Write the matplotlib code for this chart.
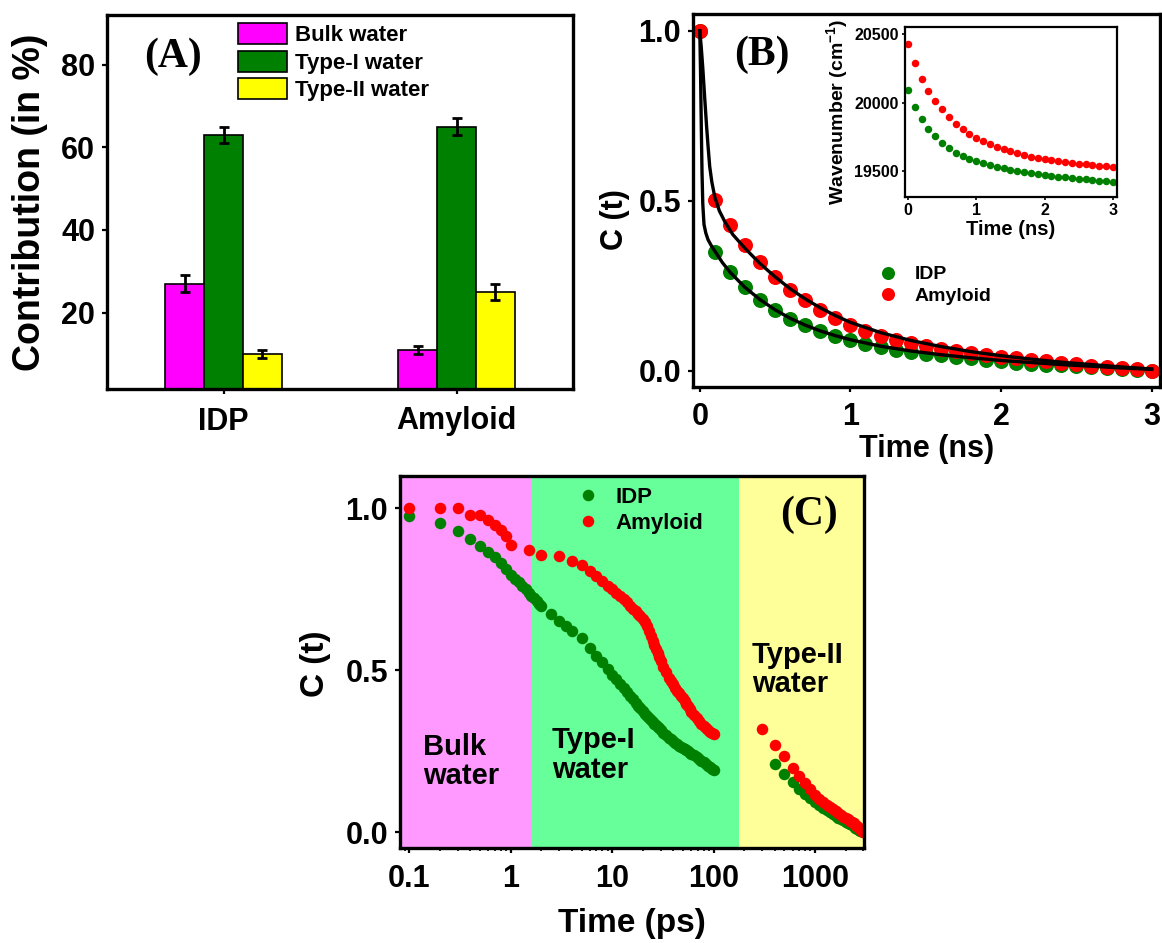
"""Three-panel figure: water-type contributions, solvation C(t) in ns, and C(t) on a log ps axis."""
import matplotlib

matplotlib.use("Agg")
import matplotlib.pyplot as plt
import numpy as np
from matplotlib.ticker import FixedLocator, LogLocator, NullFormatter

plt.rcParams["font.family"] = ["Liberation Sans", "DejaVu Sans"]
plt.rcParams["font.weight"] = "bold"
plt.rcParams["axes.labelweight"] = "bold"
plt.rcParams["mathtext.default"] = "regular"

MAGENTA, GREEN, YELLOW, RED, INK = "#ff00ff", "#008000", "#ffff00", "#ff0000", "black"
PINK_BG, GREEN_BG, YELLOW_BG = "#ff99ff", "#66ff99", "#ffff99"
W, H = 1162, 943

# ---- (A) contribution of each water type (%)
SAMPLES = ["IDP", "Amyloid"]
WATER_TYPES = ["Bulk water", "Type-I water", "Type-II water"]
BULK = [27, 11]
BULK_ERR = [2, 1]
TYPE1 = [63, 65]
TYPE1_ERR = [2, 2]
TYPE2 = [10, 25]
TYPE2_ERR = [1, 2]

# ---- (B) C(t) against time in ns, with fitted curves
T_NS = [0.0, 0.1, 0.2, 0.3, 0.4, 0.5, 0.6, 0.7, 0.8, 0.9, 1.0, 1.1, 1.2, 1.3, 1.4, 1.5,
        1.6, 1.7, 1.8, 1.9, 2.0, 2.1, 2.2, 2.3, 2.4, 2.5, 2.6, 2.7, 2.8, 2.9, 3.0]
IDP_C = [1.0, .349, .289, .246, .209, .179, .153, .133, .118, .101, .089, .079, .070, .062,
         .056, .050, .045, .040, .036, .032, .027, .024, .021, .018, .016, .013, .010, .008,
         .005, .003, .0]
AMY_C = [1.0, .503, .429, .369, .320, .276, .238, .209, .179, .155, .135, .118, .102, .090,
         .080, .072, .064, .057, .051, .045, .041, .036, .032, .027, .023, .019, .015, .012,
         .008, .004, .0]
IDP_FIT_T = [0, 0.005, 0.01, 0.015, 0.02, 0.028, 0.04, 0.055, 0.08, 0.11, 0.15, 0.2, 0.3,
             0.4, 0.5, 0.6, 0.7, 0.8, 0.9, 1.0, 1.2, 1.4, 1.6, 1.8, 2.0, 2.2, 2.4, 2.6, 2.8, 3.0]
IDP_FIT_C = [1.0, 0.88, 0.72, 0.58, 0.49, 0.43, 0.405, 0.385, 0.365, 0.345, 0.318, 0.29,
             0.245, 0.209, 0.179, 0.154, 0.134, 0.117, 0.103, 0.091, 0.072, 0.058, 0.047,
             0.038, 0.030, 0.024, 0.018, 0.013, 0.008, 0.004]
AMY_FIT_T = [0, 0.01, 0.02, 0.033, 0.045, 0.055, 0.066, 0.08, 0.1, 0.13, 0.17, 0.22, 0.3,
             0.4, 0.5, 0.6, 0.7, 0.8, 0.9, 1.0, 1.2, 1.4, 1.6, 1.8, 2.0, 2.2, 2.4, 2.6, 2.8, 3.0]
AMY_FIT_C = [1.0, 0.95, 0.89, 0.80, 0.72, 0.66, 0.60, 0.555, 0.51, 0.47, 0.435, 0.40, 0.36,
             0.315, 0.276, 0.241, 0.211, 0.185, 0.162, 0.142, 0.112, 0.089, 0.071, 0.056,
             0.044, 0.034, 0.025, 0.018, 0.011, 0.005]

# ---- (B, inset) emission peak wavenumber (cm-1)
IDP_WN = [20090, 19968, 19878, 19810, 19754, 19707, 19668, 19634, 19609, 19590, 19573, 19555,
          19541, 19529, 19519, 19509, 19500, 19493, 19485, 19478, 19471, 19466, 19459, 19454,
          19449, 19444, 19439, 19434, 19429, 19424, 19419]
AMY_WN = [20432, 20290, 20176, 20085, 20012, 19951, 19895, 19846, 19810, 19773, 19744, 19719,
          19695, 19675, 19658, 19644, 19629, 19616, 19606, 19597, 19587, 19580, 19573, 19565,
          19558, 19553, 19549, 19544, 19539, 19534, 19529]

# ---- (C) C(t) against time in ps (log axis), two time windows per sample
IDP_T1 = [0.1, 0.2, 0.3, 0.4, 0.5, 0.6, 0.7, 0.8, 0.9, 1.0, 1.1, 1.2, 1.3, 1.4, 1.5, 1.6, 1.7,
          1.8, 1.9, 2.0, 2.5, 3, 3.5, 4, 5, 6, 7, 8, 9,
          10, 11, 12, 13, 14, 15, 16, 17, 18, 19, 20, 21, 22, 23, 24, 25, 26, 27, 28, 29, 30,
          32, 34, 36, 38, 40, 42, 44, 46, 48, 50, 52, 54, 56, 58, 60,
          64, 68, 72, 76, 80, 84, 88, 92, 96, 100]
IDP_C1 = [.976, .954, .930, .907, .884, .866, .849, .832, .814, .796, .783, .772, .761, .750,
          .740, .731, .722, .714, .706, .698, .673, .652, .637, .623, .600, .570, .546, .525,
          .505,
          .487, .472, .458, .445, .432, .421, .411, .401, .391, .383, .375, .367, .360, .353,
          .347, .341, .336, .331, .326, .321, .316,
          .308, .300, .293, .287, .282, .277, .273, .268, .264, .260, .257, .253, .250, .246,
          .243,
          .238, .232, .227, .221, .216, .211, .206, .202, .197, .193]
AMY_T1 = [0.1, 0.2, 0.3, 0.4, 0.5, 0.6, 0.7, 0.8, 0.9, 1.0, 1.5, 2, 3, 4, 5, 6, 7, 8, 9,
          10, 11, 12, 13, 14, 15, 16, 17, 18, 19, 20, 21, 22, 23, 24, 25, 26, 27, 28, 29, 30,
          32, 34, 36, 38, 40, 42, 44, 46, 48, 50, 52, 54, 56, 58, 60,
          64, 68, 72, 76, 80, 84, 88, 92, 96, 100]
AMY_C1 = [1.0, 1.0, 1.0, .979, .980, .964, .949, .933, .915, .887, .871, .856, .853, .838,
          .824, .808, .792, .777, .762,
          .750, .740, .731, .720, .710, .700, .691, .682, .674, .667, .659, .650, .638, .622,
          .605, .591, .578, .565, .553, .541, .530,
          .511, .494, .478, .467, .457, .447, .437, .430, .422, .414, .405, .397, .389, .381,
          .373,
          .363, .352, .343, .335, .328, .322, .316, .311, .307, .303]
IDP_T2 = [400, 500, 600, 700, 800, 900, 1000, 1100, 1200, 1300, 1400, 1500, 1600, 1700, 1800,
          1900, 2000, 2100, 2200, 2300, 2400, 2500, 2600, 2700, 2800, 2900, 3000]
IDP_C2 = [.210, .180, .157, .135, .120, .106, .094, .084, .075, .068, .062, .056, .051, .046,
          .041, .037, .033, .029, .026, .022, .019, .015, .012, .009, .006, .003, .0]
AMY_T2 = [300, 400, 500, 600, 700, 800, 900, 1000, 1100, 1200, 1300, 1400, 1500, 1600, 1700,
          1800, 1900, 2000, 2100, 2200, 2300, 2400, 2500, 2600, 2700, 2800, 2900, 3000]
AMY_C2 = [.320, .270, .235, .200, .175, .153, .133, .115, .103, .093, .085, .078, .071, .065,
          .059, .054, .049, .044, .040, .036, .032, .028, .024, .019, .015, .010, .005, .0]
BAND_EDGES = [0.081, 1.6, 180, 3040]
BAND_COLORS = [PINK_BG, GREEN_BG, YELLOW_BG]
BAND_NAMES = ["Bulk\nwater", "Type-I\nwater", "Type-II\nwater"]


def _rect(left, top, right, bottom):
    """Pixel box -> figure fraction rectangle."""
    return [left / W, 1 - bottom / H, (right - left) / W, (bottom - top) / H]


def _frame(ax, lw=2.4, size=21, length=3.6, width=1.6, pad=5):
    for s in ax.spines.values():
        s.set_linewidth(lw)
    ax.tick_params(direction="out", length=length, width=width, labelsize=size, pad=pad)


def panel_a(fig):
    ax = fig.add_axes(_rect(107, 15, 573, 389))
    x = np.arange(len(SAMPLES))
    w = 1 / 6
    groups = zip([BULK, TYPE1, TYPE2], [BULK_ERR, TYPE1_ERR, TYPE2_ERR],
                 [MAGENTA, GREEN, YELLOW], WATER_TYPES)
    for k, (vals, errs, col, lab) in enumerate(groups):
        ax.bar(x + (k - 1) * w, vals, w, color=col, edgecolor=INK, linewidth=1.2, label=lab,
               yerr=errs, capsize=3.5,
               error_kw=dict(elinewidth=2, capthick=2, ecolor=INK))
    ax.set_xlim(-0.5, 1.5)
    ax.set_ylim(1.5, 92)
    ax.set_xticks(x, SAMPLES)
    ax.set_yticks([20, 40, 60, 80])
    _frame(ax, size=22)
    ax.tick_params(axis="x", pad=9)
    ax.set_ylabel("Contribution (in %)", fontsize=27)
    ax.yaxis.set_label_coords(-0.127, 0.5)
    ax.legend(loc="upper left", bbox_to_anchor=(0.2805, 0.9786), frameon=False, fontsize=16,
              handlelength=2.23, handleheight=1.08, labelspacing=0.2, handletextpad=0.35,
              borderpad=0, borderaxespad=0)
    ax.text(0.1416, 0.8877, "(A)", transform=ax.transAxes, ha="center", va="center",
            fontsize=30, fontweight="bold", family="Liberation Serif")


def panel_b(fig):
    ax = fig.add_axes(_rect(693, 14, 1160, 387))
    ax.plot(T_NS, IDP_C, "o", color=GREEN, ms=10.8, mew=0, label="IDP")
    ax.plot(T_NS, AMY_C, "o", color=RED, ms=10.8, mew=0, label="Amyloid")
    ax.plot(IDP_FIT_T, IDP_FIT_C, color=INK, lw=2.4)
    ax.plot(AMY_FIT_T, AMY_FIT_C, color=INK, lw=2.4)
    ax.set_xlim(-0.045, 3.055)
    ax.set_ylim(-0.048, 1.049)
    ax.set_xticks([0, 1, 2, 3])
    ax.set_yticks([0.0, 0.5, 1.0], ["0.0", "0.5", "1.0"])
    _frame(ax, size=22)
    ax.tick_params(axis="x", pad=7)
    ax.set_xlabel("Time (ns)", fontsize=22, labelpad=2)
    ax.set_ylabel("C (t)", fontsize=22)
    ax.yaxis.set_label_coords(-0.135, 0.45)
    ax.legend(loc="center left", bbox_to_anchor=(0.396, 0.2727), frameon=False, fontsize=14,
              markerscale=0.87, handlelength=1.0, handletextpad=0.9, labelspacing=0.2,
              borderpad=0, borderaxespad=0, numpoints=1)
    ax.text(0.147, 0.890, "(B)", transform=ax.transAxes, ha="center", va="center",
            fontsize=30, fontweight="bold", family="Liberation Serif")

    ins = fig.add_axes(_rect(905, 27, 1117, 197))
    ins.plot(T_NS, IDP_WN, "o", color=GREEN, ms=5.4, mew=0)
    ins.plot(T_NS, AMY_WN, "o", color=RED, ms=5.4, mew=0)
    ins.set_xlim(-0.044, 3.06)
    ins.set_ylim(19310, 20553)
    ins.set_xticks([0, 1, 2, 3])
    ins.set_yticks([19500, 20000, 20500])
    _frame(ins, lw=1.6, size=11.5, length=2.5, width=1.2, pad=2)
    ins.set_xlabel("Time (ns)", fontsize=14.5, labelpad=1)
    ins.set_ylabel("Wavenumber (cm$^{-1}$)", fontsize=14, labelpad=3)


def panel_c(fig):
    ax = fig.add_axes(_rect(400, 476, 864, 848))
    for lo, hi, col in zip(BAND_EDGES[:-1], BAND_EDGES[1:], BAND_COLORS):
        ax.axvspan(lo, hi, color=col, lw=0, zorder=0)
    ax.plot(IDP_T1, IDP_C1, "o", color=GREEN, ms=8.3, mew=0, label="IDP")
    ax.plot(IDP_T2, IDP_C2, "o", color=GREEN, ms=8.3, mew=0)
    ax.plot(AMY_T1, AMY_C1, "o", color=RED, ms=8.3, mew=0, label="Amyloid")
    ax.plot(AMY_T2, AMY_C2, "o", color=RED, ms=8.3, mew=0)
    ax.set_xscale("log")
    ax.set_xlim(BAND_EDGES[0], BAND_EDGES[-1])
    ax.set_ylim(-0.048, 1.1)
    ax.xaxis.set_major_locator(FixedLocator([0.1, 1, 10, 100, 1000]))
    ax.set_xticklabels(["0.1", "1", "10", "100", "1000"])
    ax.xaxis.set_minor_locator(LogLocator(base=10, subs=np.arange(2, 10)))
    ax.xaxis.set_minor_formatter(NullFormatter())
    ax.set_yticks([0.0, 0.5, 1.0], ["0.0", "0.5", "1.0"])
    _frame(ax, size=22)
    ax.tick_params(axis="x", pad=8)
    ax.tick_params(axis="x", which="minor", direction="out", length=2.5, width=1.2)
    ax.set_xlabel("Time (ps)", fontsize=24, labelpad=10)
    ax.set_ylabel("C (t)", fontsize=24)
    ax.yaxis.set_label_coords(-0.148, 0.496)
    ax.legend(loc="center left", bbox_to_anchor=(0.381, 0.908), frameon=False, fontsize=16,
              handlelength=1.0, handletextpad=0.72, labelspacing=0.22,
              borderpad=0, borderaxespad=0, numpoints=1)
    for (x, y), name in zip([(0.0496, 0.233), (0.3276, 0.25), (0.758, 0.481)], BAND_NAMES):
        ax.text(x, y, name, transform=ax.transAxes, ha="left", va="center", fontsize=21,
                linespacing=1.05)
    ax.text(0.881, 0.8945, "(C)", transform=ax.transAxes, ha="center", va="center",
            fontsize=30, fontweight="bold", family="Liberation Serif")


def main():
    fig = plt.figure(figsize=(W / 100, H / 100), dpi=100)
    panel_a(fig)
    panel_b(fig)
    panel_c(fig)
    fig.savefig("out.png", dpi=100)
    plt.close(fig)


if __name__ == "__main__":
    main()
